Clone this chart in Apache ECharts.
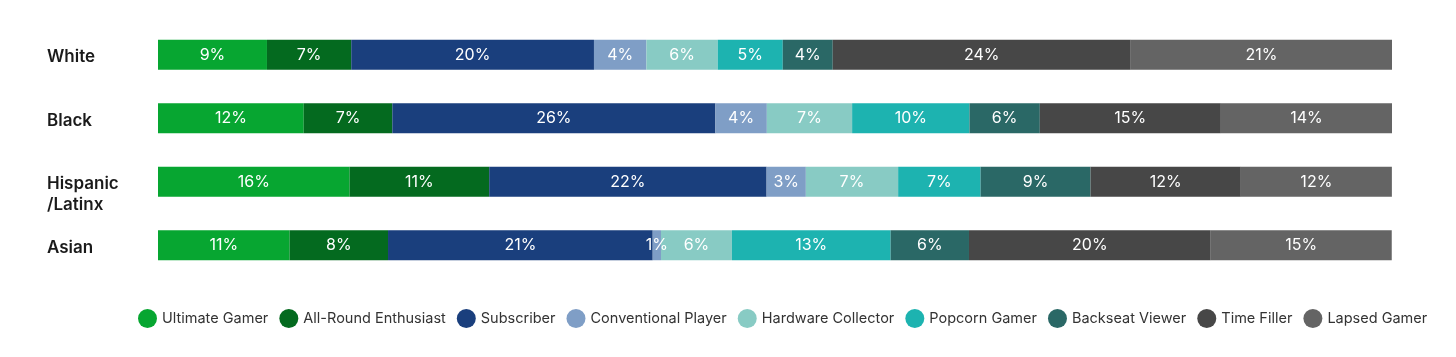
<!DOCTYPE html>
<html>
<head>
<meta charset="utf-8">
<script src="https://cdn.jsdelivr.net/npm/echarts@6/dist/echarts.min.js"></script>
<style>html,body{margin:0;padding:0;background:#fff;}#c{width:1456px;height:357px;}</style>
</head>
<body>
<div id="c"></div>
<script>
const categories = ['White', 'Black', 'Hispanic\n/Latinx', 'Asian'];
const seriesNames = ['Ultimate Gamer', 'All-Round Enthusiast', 'Subscriber', 'Conventional Player', 'Hardware Collector', 'Popcorn Gamer', 'Backseat Viewer', 'Time Filler', 'Lapsed Gamer'];
const colors = ['#07a631', '#046a1f', '#1a3f7d', '#7f9ec6', '#88cbc4', '#1db3b0', '#2a6866', '#474747', '#646464'];
// values per series, order: White, Black, Hispanic/Latinx, Asian (labels show rounded values)
const ultimateGamer = [8.83, 11.81, 15.53, 10.67];
const allRoundEnthusiast = [6.83, 7.18, 11.31, 7.97];
const subscriber = [19.67, 26.18, 22.48, 21.45];
const conventionalPlayer = [4.25, 4.17, 3.18, 0.67];
const hardwareCollector = [5.78, 6.91, 7.48, 5.75];
const popcornGamer = [5.27, 9.51, 6.68, 12.86];
const backseatViewer = [4.05, 5.70, 8.91, 6.35];
const timeFiller = [24.15, 14.67, 12.18, 19.59];
const lapsedGamer = [21.17, 13.87, 12.24, 14.67];
const seriesValues = [ultimateGamer, allRoundEnthusiast, subscriber, conventionalPlayer, hardwareCollector, popcornGamer, backseatViewer, timeFiller, lapsedGamer];

const font = 'Inter';
const chart = echarts.init(document.getElementById('c'), null, {renderer: 'canvas'});
chart.setOption({
  animation: false,
  color: colors,
  legend: {
    bottom: 24,
    left: 133,
    icon: 'circle',
    itemWidth: 19,
    itemHeight: 19,
    itemGap: 11,
    textStyle: {fontFamily: font, fontSize: 14.5, color: '#333'},
    data: seriesNames
  },
  grid: {left: 158, right: 64, top: 23, bottom: 80, outerBoundsMode: 'none', containLabel: false},
  xAxis: {type: 'value', min: 0, max: 100, show: false},
  yAxis: {
    type: 'category',
    inverse: true,
    data: categories,
    axisLine: {show: false},
    axisTick: {show: false},
    axisLabel: {
      align: 'left', margin: 111,
      formatter: v => v.indexOf('\n') >= 0
        ? '{e|\u200b}\n' + v.split('\n').map(s => '{a|' + s + '}').join('\n')
        : '{a|' + v + '}',
      rich: {
        a: {fontFamily: font, fontSize: 17, fontWeight: 600, color: '#1a1a1a', lineHeight: 21, padding: [5, 0, 0, 0]},
        e: {fontFamily: font, fontSize: 17, lineHeight: 21, padding: [5, 0, 0, 0]}
      }
    }
  },
  series: seriesNames.map((name, i) => ({
    name: name,
    type: 'bar',
    stack: 'total',
    barWidth: 30,
    data: seriesValues[i],
    label: {
      show: true,
      position: 'inside',
      color: '#fff',
      fontFamily: font,
      fontSize: 16,
      formatter: p => Math.round(p.value) + '%'
    }
  }))
});
</script>
</body>
</html>
